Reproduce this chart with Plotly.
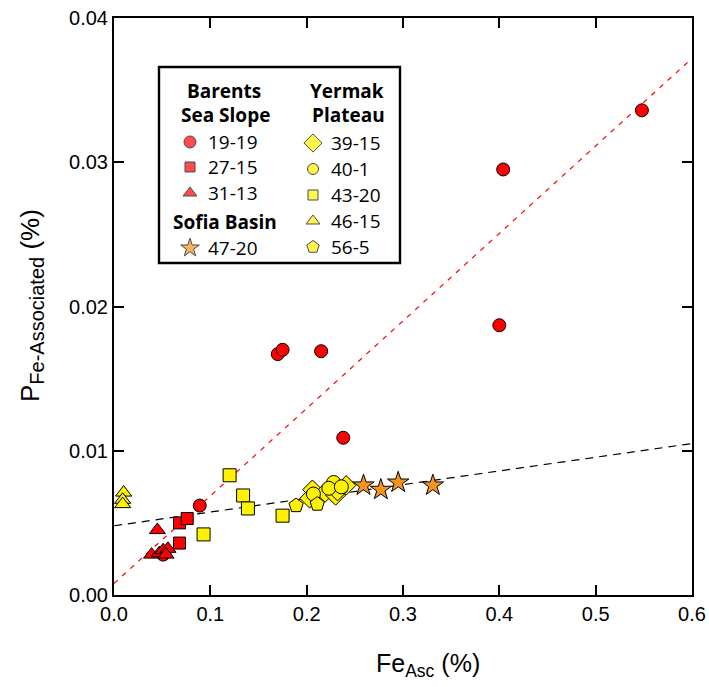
import plotly.graph_objects as go

# ---------------- data ----------------
# Barents Sea Slope
bss_19_19_x = [0.548, 0.404, 0.400, 0.170, 0.175, 0.215, 0.238, 0.089, 0.051]
bss_19_19_y = [0.0336, 0.0295, 0.0187, 0.0167, 0.0170, 0.0169, 0.0109, 0.0062, 0.0028]
bss_27_15_x = [0.068, 0.076, 0.068]
bss_27_15_y = [0.0050, 0.0053, 0.0036]
bss_31_13_x = [0.045, 0.039, 0.047, 0.051, 0.056, 0.054]
bss_31_13_y = [0.0045, 0.0028, 0.0029, 0.0031, 0.0032, 0.0028]
# Sofia Basin
sb_47_20_x = [0.259, 0.277, 0.295, 0.331]
sb_47_20_y = [0.0076, 0.0073, 0.0078, 0.0076]
# Yermak Plateau
yp_39_15_x = [0.206, 0.203, 0.219, 0.230, 0.241, 0.232]
yp_39_15_y = [0.0073, 0.0067, 0.0071, 0.0069, 0.0076, 0.0072]
yp_40_1_x = [0.228, 0.223, 0.236, 0.207]
yp_40_1_y = [0.0078, 0.0074, 0.0075, 0.0070]
yp_43_20_x = [0.120, 0.134, 0.139, 0.093, 0.175]
yp_43_20_y = [0.0083, 0.0069, 0.0060, 0.0042, 0.0055]
yp_46_15_x = [0.010, 0.009, 0.009]
yp_46_15_y = [0.0071, 0.0066, 0.0063]
yp_56_5_x = [0.189, 0.211]
yp_56_5_y = [0.0062, 0.0063]

# regression lines
fit_x = [0.0, 0.6]
red_fit_y = [0.0008, 0.0372]
black_fit_y = [0.0048, 0.0105]

x_ticks = [0.0, 0.1, 0.2, 0.3, 0.4, 0.5, 0.6]
x_tick_text = ["0.0", "0.1", "0.2", "0.3", "0.4", "0.5", "0.6"]
y_ticks = [0.0, 0.01, 0.02, 0.03, 0.04]
y_tick_text = ["0.00", "0.01", "0.02", "0.03", "0.04"]

RED = "#ff0000"
YEL = "#fff200"
ORA = "#f7941d"

series = [
    ("19-19", bss_19_19_x, bss_19_19_y, "circle", RED, 13),
    ("27-15", bss_27_15_x, bss_27_15_y, "square", RED, 12),
    ("31-13", bss_31_13_x, bss_31_13_y, "triangle-up", RED, 14),
    ("39-15", yp_39_15_x, yp_39_15_y, "diamond", YEL, 15),
    ("40-1", yp_40_1_x, yp_40_1_y, "circle", YEL, 14),
    ("43-20", yp_43_20_x, yp_43_20_y, "square", YEL, 13),
    ("46-15", yp_46_15_x, yp_46_15_y, "triangle-up", YEL, 14),
    ("56-5", yp_56_5_x, yp_56_5_y, "pentagon", YEL, 15),
    ("47-20", sb_47_20_x, sb_47_20_y, "star", ORA, 16),
]

fig = go.Figure()

fig.add_trace(go.Scatter(x=fit_x, y=red_fit_y, mode="lines",
                         line=dict(color=RED, width=1.2, dash="5px,6px"),
                         showlegend=False, hoverinfo="skip"))
fig.add_trace(go.Scatter(x=fit_x, y=black_fit_y, mode="lines",
                         line=dict(color="black", width=1.2, dash="8px,6px"),
                         showlegend=False, hoverinfo="skip"))

for name, xs, ys, sym, col, sz in series:
    fig.add_trace(go.Scatter(x=xs, y=ys, mode="markers", name=name,
                             marker=dict(symbol=sym, color=col, size=sz,
                                         line=dict(color="black", width=1)),
                             showlegend=False))

# ---------------- layout geometry (body margin removed by post_script) ----------------
W, H = 709, 687
# plot area in page pixels: left 114, right 692, top 18, bottom 595
L, R, T, B = 114, W - 692, 18, H - 595
PW, PH = 692 - 114, 595 - 18


def px(xp):
    return (xp - 114) / PW


def py(yp):
    return (595 - yp) / PH


fig.add_shape(type="rect", xref="paper", yref="paper",
              x0=px(159), x1=px(400), y0=py(263), y1=py(67),
              line=dict(color="black", width=2.4), fillcolor="white", layer="below")

bold_font = dict(family="Open Sans", size=19, color="black")
item_font = dict(family="Open Sans", size=19, color="black")

headers = [
    ("<b>Barents</b>", 224, 91),
    ("<b>Sea Slope</b>", 225, 115),
    ("<b>Sofia Basin</b>", 225, 222),
    ("<b>Yermak</b>", 347, 91),
    ("<b>Plateau</b>", 348, 115),
]
for txt, xx, yy in headers:
    fig.add_annotation(x=px(xx), y=py(yy), xref="paper", yref="paper", text=txt,
                       showarrow=False, font=bold_font, xanchor="center", yanchor="middle")

legend_items = [
    ("19-19", 190, 142, "circle", RED, 12),
    ("27-15", 190, 167, "square", RED, 10),
    ("31-13", 190, 193, "triangle-up", RED, 12),
    ("47-20", 190, 248, "star", ORA, 14),
    ("39-15", 313, 143, "diamond", YEL, 14),
    ("40-1", 313, 169, "circle", YEL, 11),
    ("43-20", 313, 195, "square", YEL, 10),
    ("46-15", 313, 221, "triangle-up", YEL, 12),
    ("56-5", 313, 247, "pentagon", YEL, 13),
]
fig.add_trace(go.Scatter(
    x=[px(it[1]) for it in legend_items], y=[py(it[2]) for it in legend_items],
    xaxis="x2", yaxis="y2", mode="markers", showlegend=False, hoverinfo="skip",
    marker=dict(symbol=[it[3] for it in legend_items], color=[it[4] for it in legend_items],
                size=[it[5] for it in legend_items], line=dict(color="black", width=1))))
for name, xx, yy, *_ in legend_items:
    fig.add_annotation(x=px(xx + 16), y=py(yy), xref="paper", yref="paper", text=name,
                       showarrow=False, font=item_font, xanchor="left", yanchor="middle")

# axis titles as annotations for exact placement
fig.add_annotation(x=px(428), y=py(665), xref="paper", yref="paper",
                   text="Fe<sub>Asc</sub> (%)", showarrow=False,
                   font=dict(family="Liberation Sans, Arial", size=25, color="black"),
                   xanchor="center", yanchor="middle")
fig.add_annotation(x=px(31), y=py(306), xref="paper", yref="paper",
                   text="P<sub><span style='font-size:20px'>Fe-Associated</span></sub> (%)",
                   showarrow=False, textangle=-90,
                   font=dict(family="Liberation Sans, Arial", size=26, color="black"),
                   xanchor="center", yanchor="middle")

axis_common = dict(showgrid=False, zeroline=False, showline=True, linecolor="black",
                   linewidth=2, mirror="allticks", ticks="inside", ticklen=10,
                   tickwidth=2, tickcolor="black", automargin=False,
                   ticklabeloverflow="allow",
                   tickfont=dict(family="Liberation Sans, Arial", size=20, color="black"))

fig.update_layout(
    width=W, height=H,
    margin=dict(l=L, r=R, t=T, b=B, autoexpand=False),
    paper_bgcolor="white", plot_bgcolor="white",
    showlegend=False,
    xaxis=dict(range=[0, 0.6], tickvals=x_ticks, ticktext=x_tick_text, **axis_common),
    yaxis=dict(range=[0, 0.04], tickvals=y_ticks, ticktext=y_tick_text, **axis_common),
    xaxis2=dict(overlaying="x", range=[0, 1], visible=False, fixedrange=True),
    yaxis2=dict(overlaying="y", range=[0, 1], visible=False, fixedrange=True),
)

fig.write_html(
    "out.html",
    config={"displayModeBar": False},
    post_script="document.body.style.margin='0';document.body.style.overflow='hidden';",
)
